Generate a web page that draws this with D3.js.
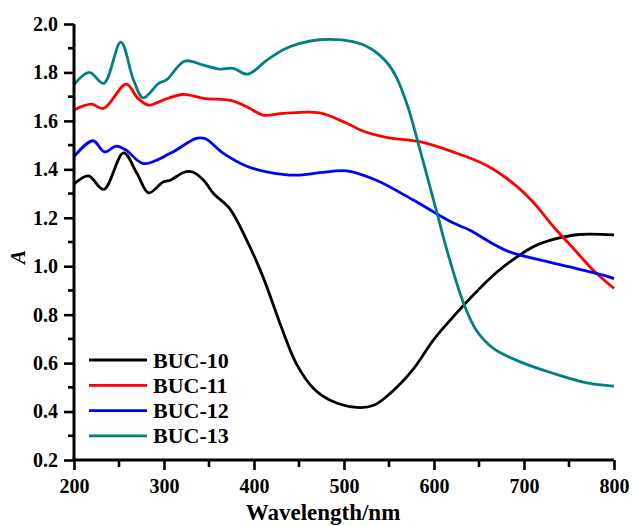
<!DOCTYPE html>
<html>
<head>
<meta charset="utf-8">
<script src="https://cdn.jsdelivr.net/npm/d3@7"></script>
<style>
  html, body { margin: 0; padding: 0; background: #fff; }
  svg { display: block; }
  text { font-family: "Liberation Serif", "Times New Roman", serif; font-weight: bold; fill: #000; }
</style>
</head>
<body>
<svg id="chart"></svg>
<script>
// values: [wavelength nm, absorbance]
const buc10 = [[200,1.339],[216,1.373],[233,1.317],[255,1.468],[270,1.383],[283,1.303],[299,1.348],[307,1.355],
  [321,1.386],[331,1.39],[344,1.355],[355,1.30],[373,1.238],[392,1.107],[410,0.956],[429,0.763],[447,0.598],
  [466,0.496],[484,0.448],[514,0.417],[533,0.426],[551,0.474],[577,0.575],[599,0.694],[621,0.79],[640,0.867],
  [670,0.976],[696,1.048],[714,1.087],[736,1.114],[762,1.131],[800,1.129]]
const buc11 = [[200,1.645],[219,1.669],[233,1.652],[258,1.752],[271,1.693],[283,1.665],[299,1.686],[321,1.709],
  [344,1.693],[377,1.682],[395,1.652],[410,1.624],[433,1.631],[473,1.633],[503,1.59],[521,1.558],[547,1.532],
  [584,1.514],[621,1.472],[658,1.417],[688,1.342],[710,1.265],[733,1.162],[755,1.073],[777,0.983],[800,0.908]]
const buc12 = [[200,1.452],[221,1.518],[234,1.472],[247,1.496],[258,1.479],[277,1.424],[307,1.466],[336,1.528],
  [346,1.526],[366,1.466],[392,1.413],[414,1.39],[447,1.376],[473,1.386],[503,1.394],[536,1.355],[577,1.273],
  [621,1.179],[640,1.149],[662,1.10],[684,1.059],[714,1.029],[751,0.997],[788,0.963],[800,0.949]]
const buc13 = [[200,1.75],[217,1.80],[233,1.755],[252,1.925],[266,1.77],[277,1.695],[294,1.755],[303,1.77],
  [323,1.847],[344,1.83],[362,1.814],[377,1.817],[393,1.793],[414,1.85],[432,1.893],[451,1.92],[473,1.935],
  [510,1.927],[529,1.90],[547,1.844],[558,1.782],[571,1.658],[582,1.514],[603,1.224],[617,1.032],[633,0.846],
  [647,0.736],[666,0.661],[696,0.605],[732,0.558],[770,0.518],[800,0.505]]

const seriesNames = ['BUC-10', 'BUC-11', 'BUC-12', 'BUC-13']
const seriesColors = ['#000000', '#ff0000', '#0000ff', '#008080']
const seriesData = [buc10, buc11, buc12, buc13]

const xTicks = [200, 300, 400, 500, 600, 700, 800]
const yTicks = [0.2, 0.4, 0.6, 0.8, 1.0, 1.2, 1.4, 1.6, 1.8, 2.0]

const width = 633, height = 526
const MARGIN = { top: 24, right: 19, bottom: 66, left: 74 }

const $svg = d3.select('#chart').attr('width', width).attr('height', height)

const x = d3.scaleLinear().domain([200, 800]).range([MARGIN.left, width - MARGIN.right])
const y = d3.scaleLinear().domain([0.2, 2.0]).range([height - MARGIN.bottom, MARGIN.top])

const line = d3.line()
  .x(d => x(d[0]))
  .y(d => y(d[1]))
  .curve(d3.curveCatmullRom.alpha(0.5))

// curves
$svg.append('g').selectAll('path')
  .data(seriesData)
  .join('path')
  .attr('d', d => line(d))
  .attr('fill', 'none')
  .attr('stroke', (d, i) => seriesColors[i])
  .attr('stroke-width', 2.8)
  .attr('stroke-linejoin', 'round')

// minor ticks
const xMinor = d3.range(250, 800, 100)
const yMinor = d3.range(0.3, 2.0, 0.2)

const $xAxis = $svg.append('g')
  .attr('transform', `translate(0,${y(0.2)})`)
$xAxis.selectAll('.minor').data(xMinor).join('line')
  .attr('x1', d => x(d)).attr('x2', d => x(d))
  .attr('y1', 0).attr('y2', 7)
  .attr('stroke', '#000').attr('stroke-width', 2.6)
$xAxis.call(d3.axisBottom(x).tickValues(xTicks).tickSize(10).tickPadding(9).tickFormat(d3.format('d')))

const $yAxis = $svg.append('g')
  .attr('transform', `translate(${x(200)},0)`)
$yAxis.selectAll('.minor').data(yMinor).join('line')
  .attr('x1', 0).attr('x2', -6)
  .attr('y1', d => y(d)).attr('y2', d => y(d))
  .attr('stroke', '#000').attr('stroke-width', 2.6)
$yAxis.call(d3.axisLeft(y).tickValues(yTicks).tickSize(10).tickPadding(6).tickFormat(d3.format('.1f')))

$xAxis.select('.domain').attr('stroke', '#000').attr('stroke-width', 3)
  .attr('d', `M${x(200) - 1.5},0H${x(800)}`)
$yAxis.select('.domain').attr('stroke', '#000').attr('stroke-width', 3)
  .attr('d', `M0,${y(0.2) + 1.5}V${y(2.0)}`)
$svg.selectAll('.tick line').attr('stroke', '#000').attr('stroke-width', 2.6)
$svg.selectAll('.tick text')
  .style('font-family', '"Liberation Serif", "Times New Roman", serif')
  .style('font-weight', 'bold')
  .style('font-size', '20px')
  .attr('fill', '#000')

// axis titles
$svg.append('text')
  .attr('x', 323).attr('y', 520)
  .attr('text-anchor', 'middle')
  .style('font-size', '23px')
  .text('Wavelength/nm')

$svg.append('text')
  .attr('transform', 'translate(25,257) rotate(-90)')
  .attr('text-anchor', 'middle')
  .style('font-size', '21px')
  .style('font-style', 'italic')
  .text('A')

// legend
const $legend = $svg.append('g')
const legendRowY = i => 360 + i * 25.3
$legend.selectAll('line').data(seriesNames).join('line')
  .attr('x1', 89).attr('x2', 147)
  .attr('y1', (d, i) => legendRowY(i)).attr('y2', (d, i) => legendRowY(i))
  .attr('stroke', (d, i) => seriesColors[i])
  .attr('stroke-width', 2.8)
$legend.selectAll('text').data(seriesNames).join('text')
  .attr('x', 153)
  .attr('y', (d, i) => legendRowY(i) + 7.5)
  .style('font-size', '22px')
  .text(d => d)
</script>
</body>
</html>
